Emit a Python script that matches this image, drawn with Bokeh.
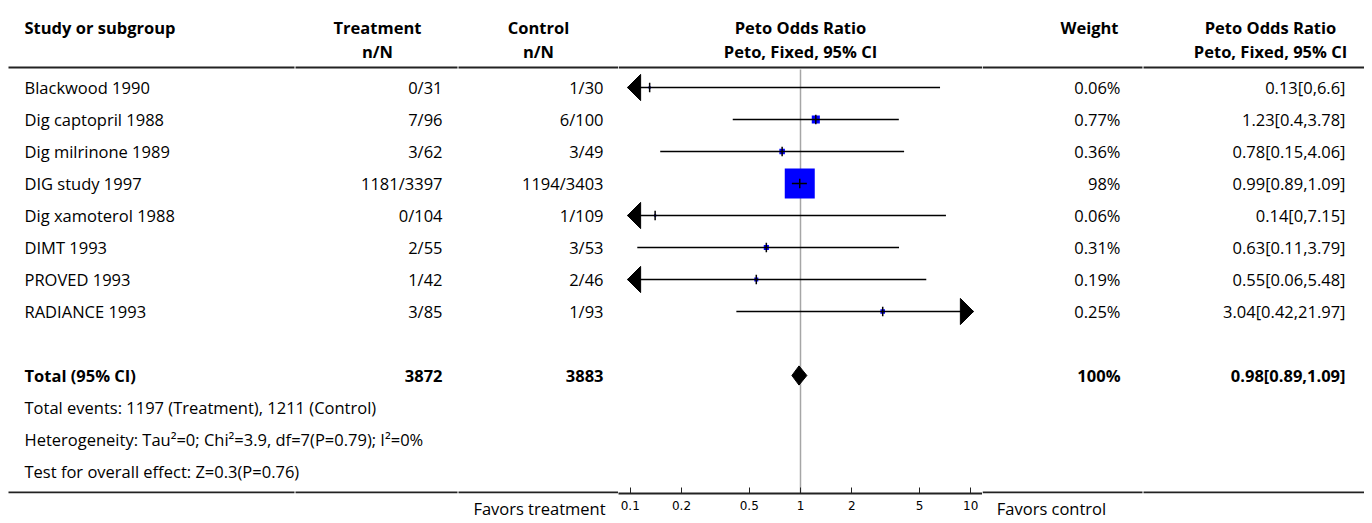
from bokeh.plotting import figure
from bokeh.layouts import row
from bokeh.models import Range1d, FixedTicker
from bokeh.core.properties import value
from bokeh.embed import file_html
from bokeh.resources import INLINE
import math

# ---------------- data ----------------
studies = ["Blackwood 1990", "Dig captopril 1988", "Dig milrinone 1989", "DIG study 1997",
           "Dig xamoterol 1988", "DIMT 1993", "PROVED 1993", "RADIANCE 1993"]
treatment = ["0/31", "7/96", "3/62", "1181/3397", "0/104", "2/55", "1/42", "3/85"]
control = ["1/30", "6/100", "3/49", "1194/3403", "1/109", "3/53", "2/46", "1/93"]
weights = [0.06, 0.77, 0.36, 98, 0.06, 0.31, 0.19, 0.25]
odds = [0.13, 1.23, 0.78, 0.99, 0.14, 0.63, 0.55, 3.04]
ci_low = [0, 0.4, 0.15, 0.89, 0, 0.11, 0.06, 0.42]
ci_high = [6.6, 3.78, 4.06, 1.09, 7.15, 3.79, 5.48, 21.97]

total_label = "Total (95% CI)"
total_treat = "3872"
total_ctrl = "3883"
total_weight = "100%"
total_or = 0.98
total_low = 0.89
total_high = 1.09

footer = ["Total events: 1197 (Treatment), 1211 (Control)",
          "Heterogeneity: Tau\u00b2=0; Chi\u00b2=3.9, df=7(P=0.79); I\u00b2=0%",
          "Test for overall effect: Z=0.3(P=0.76)"]

x_ticks = [0.1, 0.2, 0.5, 1, 2, 5, 10]
x_tick_labels = ["0.1", "0.2", "0.5", "1", "2", "5", "10"]
favors_left = "Favors treatment"
favors_right = "Favors control"

# ---------------- layout helpers ----------------
FONT = "Open Sans"
FS = "16.5px"
ROW0 = 87.0
ROWH = 32.0
FRAME_BOTTOM = 493.0
BORDER_BOTTOM = 30
FIG_H = int(FRAME_BOTTOM) + BORDER_BOTTOM


def yr(img_y):
    return (img_y - ROW0) / ROWH


def fmt(v):
    return "%g" % v


n = len(studies)
rows = list(range(n))
total_row = n + 1
footer_rows = [total_row + 1 + k for k in range(len(footer))]

Y_TOP = yr(0)
Y_BOT = yr(FRAME_BOTTOM)
HEAD1 = yr(27)
HEAD2 = yr(51)
HEAD_LINE = yr(67)
BOTTOM_LINE = yr(492)

LINE_COLOR = "#222222"


def base_fig(x0, x1, tick_x, tick_text):
    p = figure(width=int(x1 - x0), height=FIG_H, x_range=Range1d(x0, x1),
               y_range=Range1d(Y_BOT, Y_TOP),
               output_backend="svg", toolbar_location=None,
               y_axis_location=None, min_border=0, min_border_bottom=BORDER_BOTTOM)
    p.outline_line_color = None
    p.xgrid.visible = False
    p.ygrid.visible = False
    a = p.xaxis[0]
    a.ticker = FixedTicker(ticks=[tick_x], minor_ticks=[])
    a.major_label_overrides = {tick_x: tick_text}
    a.axis_line_color = None
    a.major_tick_line_color = None
    a.minor_tick_line_color = None
    a.major_tick_in = 0
    a.major_tick_out = 0
    a.major_label_text_font = FONT
    a.major_label_text_font_size = FS
    a.major_label_text_color = "#000000"
    a.major_label_standoff = 3
    return p


def txt(p, xs, ys, texts, align, bold=False, size=FS, font=FONT):
    p.text(x=xs, y=ys, text=texts, text_align=align, text_baseline="middle",
           text_font=value(font), text_font_size=value(size),
           text_font_style="bold" if bold else "normal", text_color="#000000")


# ---------------- left table ----------------
left = base_fig(0, 618, 539, favors_left)
X_STUDY = 24
X_TREAT_R = 442
X_TREAT_C = 377
X_CTRL_R = 603
X_CTRL_C = 538

txt(left, [X_STUDY], [HEAD1], ["Study or subgroup"], "left", bold=True)
txt(left, [X_TREAT_C, X_CTRL_C], [HEAD1, HEAD1], ["Treatment", "Control"], "center", bold=True)
txt(left, [X_TREAT_C, X_CTRL_C], [HEAD2, HEAD2], ["n/N", "n/N"], "center", bold=True)
txt(left, [X_STUDY] * n, rows, studies, "left")
txt(left, [X_TREAT_R] * n, rows, treatment, "right")
txt(left, [X_CTRL_R] * n, rows, control, "right")
txt(left, [X_STUDY], [total_row], [total_label], "left", bold=True)
txt(left, [X_TREAT_R, X_CTRL_R], [total_row, total_row], [total_treat, total_ctrl], "right", bold=True)
txt(left, [X_STUDY] * len(footer), footer_rows, footer, "left")
left.segment(x0=[8, 295, 458], x1=[294, 457, 618], y0=[HEAD_LINE] * 3, y1=[HEAD_LINE] * 3,
             line_color=LINE_COLOR, line_width=2)
left.segment(x0=[8, 295, 458], x1=[294, 457, 618], y0=[BOTTOM_LINE] * 3, y1=[BOTTOM_LINE] * 3,
             line_color=LINE_COLOR, line_width=2)

# ---------------- forest plot ----------------
FW = 364
decades = 1.069
forest = figure(width=FW, height=FIG_H, x_axis_type="log",
                x_range=Range1d(10 ** -decades, 10 ** decades),
                y_range=Range1d(Y_BOT, Y_TOP),
                output_backend="svg", toolbar_location=None, y_axis_location=None,
                min_border=0, min_border_bottom=BORDER_BOTTOM)
forest.outline_line_color = None
forest.xgrid.visible = False
forest.ygrid.visible = False

clip_lo = 10 ** -1.016
clip_hi = 10 ** 1.016
arrow_len = 0.077

# header
txt(forest, [1], [HEAD1], ["Peto Odds Ratio"], "center", bold=True)
txt(forest, [1], [HEAD2], ["Peto, Fixed, 95% CI"], "center", bold=True)
forest.segment(x0=[10 ** -decades], x1=[10 ** decades], y0=[HEAD_LINE], y1=[HEAD_LINE],
               line_color=LINE_COLOR, line_width=2)

# null line
forest.segment(x0=[1], x1=[1], y0=[yr(69)], y1=[yr(493)], line_color="#a6a6a6", line_width=1.5)

sizes = [min(30.0, 9.2 * math.sqrt(w)) for w in weights]
forest.scatter(x=odds, y=rows, marker="square", size=sizes, fill_color="#0000ff",
               line_color=None)
x0s = [max(lo, clip_lo) for lo in ci_low]
x1s = [min(hi, clip_hi) for hi in ci_high]
forest.segment(x0=x0s, x1=x1s, y0=rows, y1=rows, line_color="#000000", line_width=1.5)
forest.segment(x0=odds, x1=odds, y0=[r - 0.15 for r in rows], y1=[r + 0.15 for r in rows],
               line_color="#000000", line_width=1.5)

axs, ays = [], []
for r, lo, hi in zip(rows, ci_low, ci_high):
    if lo < clip_lo:
        b = 10 ** (math.log10(clip_lo) + arrow_len)
        axs.append([clip_lo, b, b])
        ays.append([r, r - 0.41, r + 0.41])
    if hi > clip_hi:
        b = 10 ** (math.log10(clip_hi) - arrow_len)
        axs.append([clip_hi, b, b])
        ays.append([r, r - 0.41, r + 0.41])
forest.patches(xs=axs, ys=ays, fill_color="#000000", line_color="#000000")

forest.patch(x=[total_low, total_or, total_high, total_or],
             y=[total_row, total_row - 0.3, total_row, total_row + 0.3],
             fill_color="#000000", line_color="#000000")

ax = forest.xaxis[0]
ax.ticker = FixedTicker(ticks=x_ticks, minor_ticks=[])
ax.major_label_overrides = {t: l for t, l in zip(x_ticks, x_tick_labels)}
ax.major_tick_in = 6
ax.major_tick_out = 0
ax.minor_tick_line_color = None
ax.axis_line_color = LINE_COLOR
ax.axis_line_width = 2
ax.major_tick_line_color = LINE_COLOR
ax.major_label_text_font = "DejaVu Sans"
ax.major_label_text_font_size = "12px"
ax.major_label_text_color = "#000000"
ax.major_label_standoff = 7

# ---------------- right table ----------------
right = base_fig(982, 1364, 1051, favors_right)
X_W_R = 1120
X_W_C = 1089
X_OR_R = 1345
X_OR_C = 1270

txt(right, [X_W_C, X_OR_C], [HEAD1, HEAD1], ["Weight", "Peto Odds Ratio"], "center", bold=True)
txt(right, [X_OR_C], [HEAD2], ["Peto, Fixed, 95% CI"], "center", bold=True)
weight_labels = [fmt(w) + "%" for w in weights]
or_labels = [fmt(o) + "[" + fmt(lo) + "," + fmt(hi) + "]" for o, lo, hi in zip(odds, ci_low, ci_high)]
txt(right, [X_W_R] * n, rows, weight_labels, "right")
txt(right, [X_OR_R] * n, rows, or_labels, "right")
txt(right, [X_W_R], [total_row], [total_weight], "right", bold=True)
txt(right, [X_OR_R], [total_row],
    [fmt(total_or) + "[" + fmt(total_low) + "," + fmt(total_high) + "]"], "right", bold=True)
right.segment(x0=[982, 1143], x1=[1142, 1364], y0=[HEAD_LINE] * 2, y1=[HEAD_LINE] * 2,
              line_color=LINE_COLOR, line_width=2)
right.segment(x0=[982, 1143], x1=[1142, 1364], y0=[BOTTOM_LINE] * 2, y1=[BOTTOM_LINE] * 2,
              line_color=LINE_COLOR, line_width=2)

layout = row(left, forest, right, spacing=0)
open("out.html", "w").write(file_html(layout, INLINE))
